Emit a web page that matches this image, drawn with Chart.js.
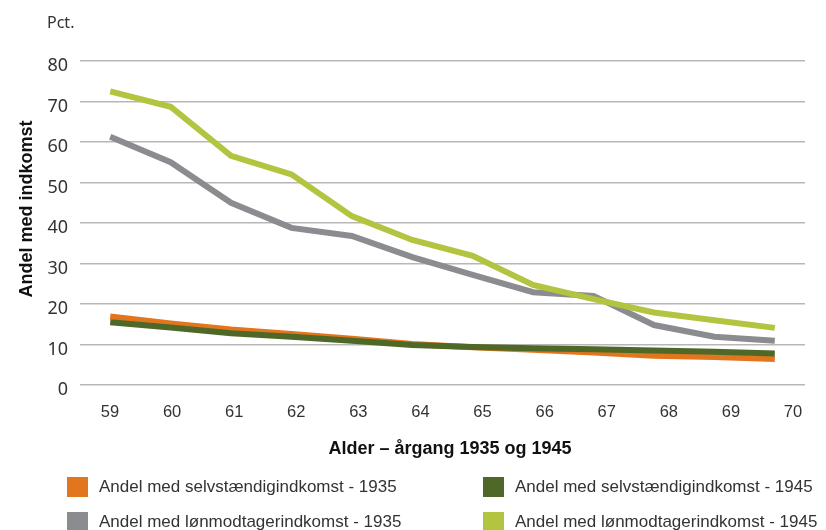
<!DOCTYPE html>
<html>
<head>
<meta charset="utf-8">
<script src="https://cdn.jsdelivr.net/npm/chart.js@4/dist/chart.umd.min.js"></script>
<style>
  body { margin: 0; background: #fff; }
  #wrap { position: relative; width: 826px; height: 530px; overflow: hidden; }
  #legend { position: absolute; left: 0; top: 0; width: 826px; height: 530px; pointer-events: none;
            font-family: "Liberation Sans", Arial, sans-serif; font-size: 17px; color: #333; }
  .item { position: absolute; height: 20px; line-height: 20px; white-space: nowrap; }
  .item span.box { position: absolute; left: 0; top: 0; width: 21px; height: 20px; }
  .item span.txt { position: absolute; white-space: nowrap; }
</style>
</head>
<body>
<div id="wrap">
  <canvas id="chart"></canvas>
  <div id="legend"></div>
</div>
<script>
// ages 59..70 (one point per age)
const ages = ['59', '60', '61', '62', '63', '64', '65', '66', '67', '68', '69', '70'];

const selv1935 = [16.9, 15.2, 13.7, 12.6, 11.4, 10.1, 9.3, 8.7, 8.0, 7.2, 6.9, 6.4];
const selv1945 = [15.5, 14.2, 12.8, 11.9, 10.9, 9.9, 9.4, 9.1, 8.8, 8.5, 8.2, 7.8];
const lon1935 = [61.3, 55.0, 45.0, 38.8, 36.8, 31.6, 27.2, 22.9, 22.0, 14.8, 11.9, 10.9];
const lon1945 = [72.5, 68.7, 56.6, 52.0, 41.7, 35.8, 31.9, 24.7, 21.2, 17.9, 16.0, 14.1];

const seriesNames = [
  'Andel med selvstændigindkomst - 1935',
  'Andel med selvstændigindkomst - 1945',
  'Andel med lønmodtagerindkomst - 1935',
  'Andel med lønmodtagerindkomst - 1945'
];
const colors = ['#E2761F', '#4E6827', '#8B8C8F', '#B3C440'];

const yTitle = 'Andel med indkomst';
const xTitle = 'Alder – årgang 1935 og 1945';
const unitLabel = 'Pct.';

function line(i, values, order) {
  return {
    label: seriesNames[i],
    data: values,
    borderColor: colors[i],
    backgroundColor: colors[i],
    borderWidth: 6,
    pointRadius: 0,
    tension: 0,
    order: order
  };
}

const extraText = {
  id: 'extraText',
  afterDraw(chart) {
    const c = chart.ctx;
    c.save();
    c.fillStyle = '#333';
    c.font = '16px "Noto Sans"';
    c.textAlign = 'left';
    c.textBaseline = 'alphabetic';
    c.fillText(unitLabel, 47, 28);

    c.fillStyle = '#111';
    c.font = 'bold 18px "Liberation Sans"';
    c.textAlign = 'center';
    c.fillText(xTitle, 450, 454);

    c.translate(32, 209);
    c.rotate(-Math.PI / 2);
    c.fillText(yTitle, 0, 0);
    c.restore();
  }
};

const chart = new Chart(document.getElementById('chart'), {
  type: 'line',
  data: {
    labels: ages,
    datasets: [
      line(0, selv1935, 4),
      line(2, lon1935, 3),
      line(1, selv1945, 2),
      line(3, lon1945, 1)
    ]
  },
  options: {
    responsive: true,
    maintainAspectRatio: false,
    animation: false,
    layout: { padding: { left: 0, right: 21, top: 61, bottom: 0 } },
    plugins: {
      legend: { display: false },
      tooltip: { enabled: false }
    },
    scales: {
      x: {
        type: 'category',
        offset: true,
        display: false
      },
      xAge: {
        type: 'linear',
        position: 'bottom',
        min: 58.517,
        max: 70.193,
        grid: { display: false, drawTicks: false },
        border: { display: false },
        ticks: {
          padding: 18,
          color: '#333',
          font: { family: '"Liberation Sans"', size: 16.5 },
          callback: v => ages[v - 59]
        },
        afterBuildTicks: s => { s.ticks = ages.map(a => ({ value: Number(a) })); },
        afterFit: s => { s.height = 145; }
      },
      y: {
        min: 0,
        max: 80,
        grid: { color: '#b7b7b7', lineWidth: 1.5, drawTicks: false },
        border: { display: false },
        ticks: {
          stepSize: 10,
          padding: 12,
          labelOffset: 5,
          color: '#333',
          font: { family: '"Noto Sans"', size: 18 }
        },
        afterFit: s => { s.width = 80; }
      }
    }
  },
  plugins: [extraText]
});

// legend: two columns, two rows
const legendPos = [
  { i: 0, x: 67, y: 477 },
  { i: 1, x: 483, y: 477 },
  { i: 2, x: 67, y: 512 },
  { i: 3, x: 483, y: 512 }
];
const legendEl = document.getElementById('legend');
legendPos.forEach(p => {
  const item = document.createElement('div');
  item.className = 'item';
  item.style.left = p.x + 'px';
  item.style.top = p.y + 'px';
  item.innerHTML = '<span class="box" style="background:' + colors[p.i] + '"></span>' +
    '<span class="txt" style="left:32px">' + seriesNames[p.i] + '</span>';
  legendEl.appendChild(item);
});
</script>
</body>
</html>
